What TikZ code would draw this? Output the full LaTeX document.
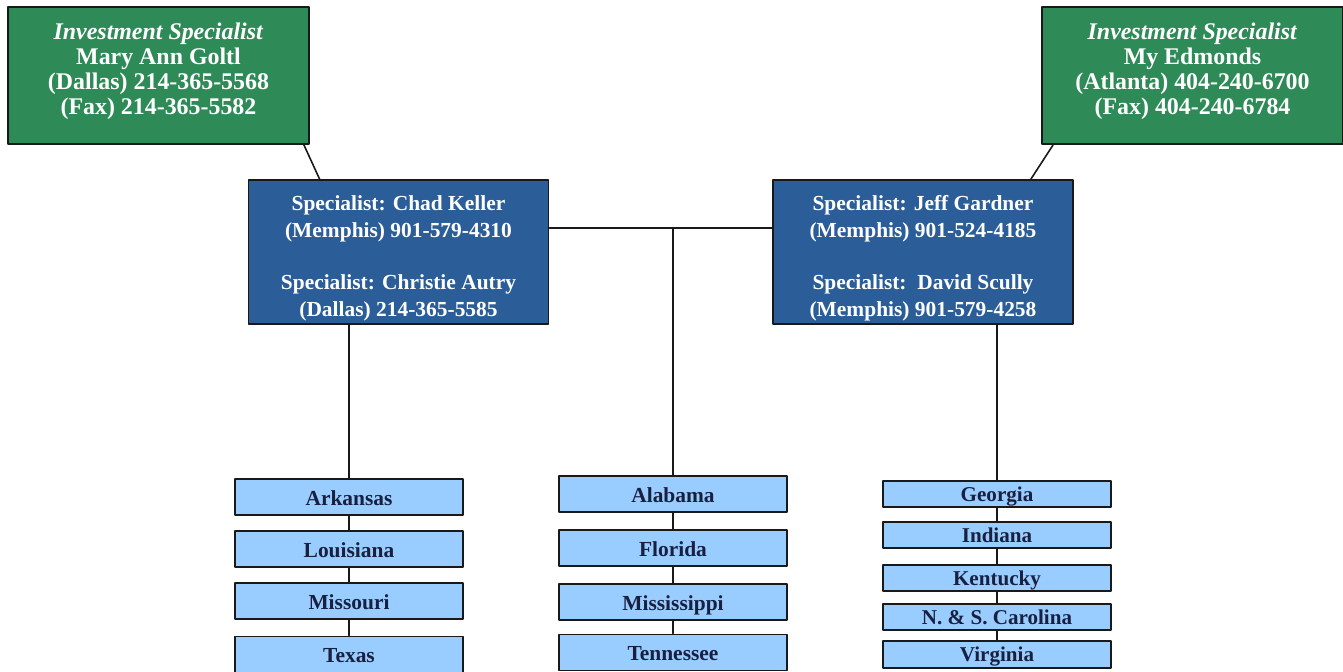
\documentclass[tikz,border=0pt]{standalone}
\usepackage{fontspec}
\setmainfont{Liberation Serif}
\usetikzlibrary{calc}
\definecolor{leadgreen}{RGB}{46,139,87}
\definecolor{deskblue}{RGB}{43,94,153}
\definecolor{statefill}{RGB}{153,204,255}
\definecolor{statetext}{RGB}{24,32,64}
\begin{document}
\begin{tikzpicture}[x=0.02cm, y=-0.02cm, line join=round, line cap=round,
	box/.style={draw=black!90, line width=1.1pt, inner sep=0pt, align=center},
	lead/.style={box, fill=leadgreen, minimum width=6.02cm, minimum height=2.74cm},
	leadtext/.style={text=white, align=center, inner sep=0pt, font=\bfseries\fontsize{13.6}{14.2}\selectfont},
	desk/.style={box, fill=deskblue, minimum width=6cm, minimum height=2.88cm},
	desktext/.style={text=white, align=center, inner sep=0pt, font=\bfseries\fontsize{12.2}{15.5}\selectfont},
	state/.style={box, fill=statefill, text=statetext, minimum width=4.56cm, minimum height=0.72cm, text height=12pt, text depth=2.4pt, font=\bfseries\fontsize{12.2}{14}\selectfont},
	slim/.style={state, minimum height=0.53cm, text height=10.4pt, font=\bfseries\fontsize{12}{14}\selectfont},
	link/.style={draw=black!90, line width=0.9pt}]
	\useasboundingbox (0,0) rectangle (1343,672);
	% top: investment specialists
	\node[lead] (GL) at (158.5,75.5) {};
	\node[leadtext] (GLt) at ($(GL)+(0,-4)$) {\textit{Investment Specialist}\\Mary Ann Goltl\\(Dallas) 214-365-5568\\(Fax) 214-365-5582};
	\node[lead] (GR) at (1192.5,75.5) {};
	\node[leadtext] (GRt) at ($(GR)+(0,-4)$) {\textit{Investment Specialist}\\My Edmonds\\(Atlanta) 404-240-6700\\(Fax) 404-240-6784};
	% specialists
	\node[desk] (DL) at (398.5,252) {};
	\node[desktext] (DLt) at ($(DL)+(0,6)$) {Specialist: Chad Keller\\(Memphis) 901-579-4310\\[14pt]Specialist: Christie Autry\\(Dallas) 214-365-5585};
	\node[desk] (DR) at (923,252) {};
	\node[desktext] (DRt) at ($(DR)+(0,6)$) {Specialist: Jeff Gardner\\(Memphis) 901-524-4185\\[14pt]Specialist:\ \ David Scully\\(Memphis) 901-579-4258};
	% states
	\node[state] (AR) at (349,497) {Arkansas};
	\node[state] (LA) at (349,549) {Louisiana};
	\node[state] (MO) at (349,601) {Missouri};
	\node[state] (TX) at (349,654.5) {Texas};
	\node[state] (AL) at (673,494) {Alabama};
	\node[state] (FL) at (673,548) {Florida};
	\node[state] (MS) at (673,602) {Mississippi};
	\node[state] (TN) at (673,652.5) {Tennessee};
	\node[slim] (GA) at (997,494) {Georgia};
	\node[slim] (IN) at (997,535) {Indiana};
	\node[slim] (KY) at (997,578) {Kentucky};
	\node[slim] (NC) at (997,617) {N. \& S. Carolina};
	\node[slim] (VA) at (997,654.5) {Virginia};
	\coordinate (H) at (673,228);
	\draw[link] ($(GL.south east)+(-6,0)$) -- ($(DL.north west)+(72,0)$);
	\draw[link] ($(GR.south west)+(12,0)$) -- ($(DR.north east)+(-43,0)$);
	\draw[link] (DL.east |- H) -- (DR.west |- H);
	\draw[link] (H) -- (AL.north);
	\draw[link] (AR.north) -- (AR.north |- DL.south) (AR) -- (LA) (LA) -- (MO) (MO) -- (TX);
	\draw[link] (AL) -- (FL) (FL) -- (MS) (MS) -- (TN);
	\draw[link] (GA.north) -- (GA.north |- DR.south) (GA) -- (IN) (IN) -- (KY) (KY) -- (NC) (NC) -- (VA);
\end{tikzpicture}
\end{document}
